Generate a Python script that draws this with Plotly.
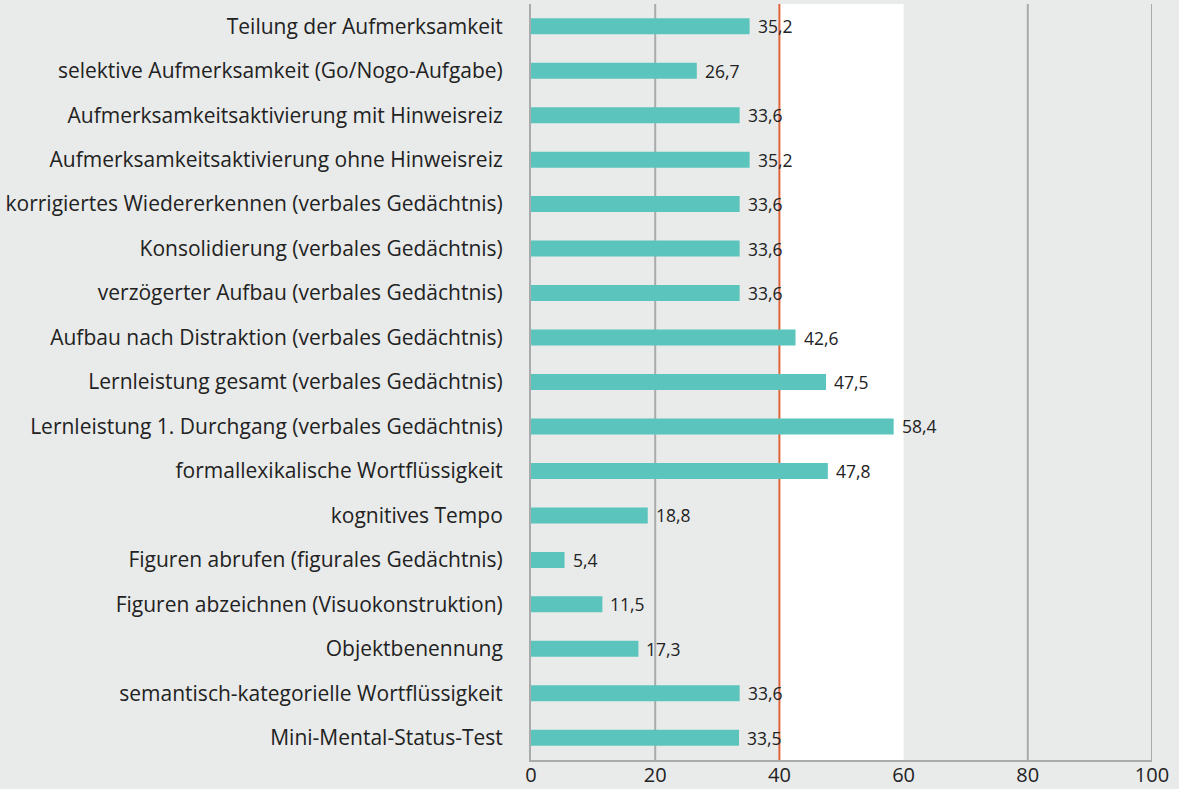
import plotly.graph_objects as go

categories = [
    "Teilung der Aufmerksamkeit",
    "selektive Aufmerksamkeit (Go/Nogo-Aufgabe)",
    "Aufmerksamkeitsaktivierung mit Hinweisreiz",
    "Aufmerksamkeitsaktivierung ohne Hinweisreiz",
    "korrigiertes Wiedererkennen (verbales Gedächtnis)",
    "Konsolidierung (verbales Gedächtnis)",
    "verzögerter Aufbau (verbales Gedächtnis)",
    "Aufbau nach Distraktion (verbales Gedächtnis)",
    "Lernleistung gesamt (verbales Gedächtnis)",
    "Lernleistung 1. Durchgang (verbales Gedächtnis)",
    "formallexikalische Wortflüssigkeit",
    "kognitives Tempo",
    "Figuren abrufen (figurales Gedächtnis)",
    "Figuren abzeichnen (Visuokonstruktion)",
    "Objektbenennung",
    "semantisch-kategorielle Wortflüssigkeit",
    "Mini-Mental-Status-Test",
]
values = [35.2, 26.7, 33.6, 35.2, 33.6, 33.6, 33.6, 42.6, 47.5, 58.4, 47.8, 18.8, 5.4, 11.5, 17.3, 33.6, 33.5]
labels = [f"{v:.1f}".replace(".", ",") for v in values]
x_ticks = [0, 20, 40, 60, 80, 100]
grid_x = [20, 80, 100]
norm_band = (40, 60)
reference_line = 40

BG = "#e9ebea"
fig = go.Figure()
fig.add_trace(go.Bar(
    y=categories, x=values, orientation="h",
    marker=dict(color="#5bc5bd", line=dict(width=0)),
    width=0.36,
    hoverinfo="skip",
))
# value labels, placed just right of each bar end
for cat, v, lab in zip(categories, values, labels):
    fig.add_annotation(x=v, y=cat, text=lab, showarrow=False, xanchor="left",
                       xshift=6, font=dict(family="Open Sans", size=17.5, color="#222222"))

fig.add_shape(type="rect", xref="x", yref="paper", x0=norm_band[0], x1=norm_band[1], y0=0, y1=1,
              fillcolor="white", line=dict(width=0), layer="below")
for gx in grid_x:
    fig.add_shape(type="line", xref="x", yref="paper", x0=gx, x1=gx, y0=0, y1=1,
                  line=dict(color="#a9aaac", width=2), layer="below")
fig.add_shape(type="line", xref="x", yref="paper", x0=reference_line, x1=reference_line, y0=0, y1=1,
              line=dict(color="#e0643a", width=2), layer="below")

fig.update_layout(
    width=1179, height=789,
    margin=dict(l=531, r=27, t=4, b=29),
    paper_bgcolor=BG, plot_bgcolor=BG,
    showlegend=False,
    bargap=0.64,
    xaxis=dict(range=[0, 100], tickvals=x_ticks, showgrid=False, zeroline=False,
               automargin=False,
               showline=True, linecolor="#a9aaac", linewidth=2,
               ticks="", ticklen=0, ticklabelstandoff=-4,
               tickfont=dict(family="Open Sans", size=20, color="#222222")),
    yaxis=dict(autorange="reversed", showgrid=False, zeroline=False,
               automargin=False,
               showline=True, linecolor="#a9aaac", linewidth=2,
               ticks="", ticklabelstandoff=22,
               tickfont=dict(family="Open Sans", size=21, color="#222222")),
)
fig.write_html("out.html", config={"displayModeBar": False},
               post_script="document.body.style.margin='0';")
